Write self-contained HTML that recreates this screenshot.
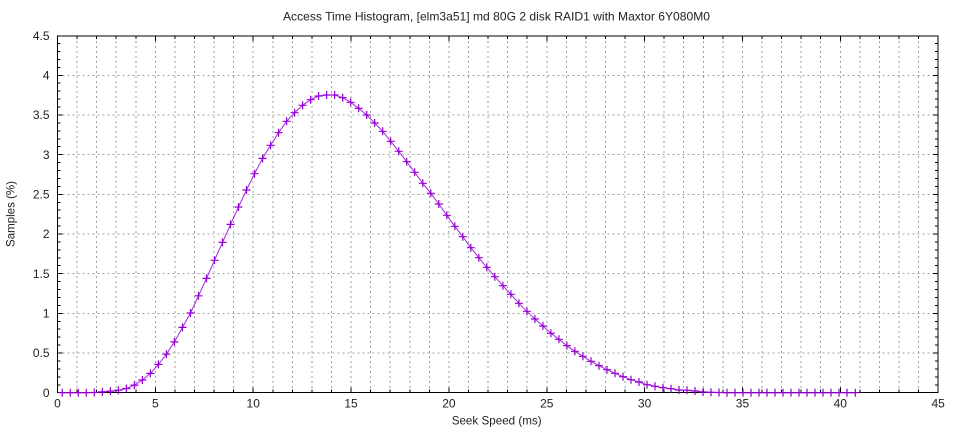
<!DOCTYPE html>
<html>
<head>
<meta charset="utf-8">
<style>
html,body{margin:0;padding:0;background:#fff;}
svg{display:block;}
text{font-family:"Liberation Sans",sans-serif;fill:#222;}
</style>
</head>
<body>
<svg width="960" height="432" viewBox="0 0 960 432" xmlns="http://www.w3.org/2000/svg">
<rect width="960" height="432" fill="#fff"/>
<defs>
<path id="p" d="M-4 0h8M0 -4v8" stroke="#9400d3" stroke-width="1.2" fill="none"/>
</defs>

<!-- grid -->
<g stroke="#a0a0a0" stroke-width="1" stroke-dasharray="2,3" fill="none" shape-rendering="crispEdges">
<path d="M77.07 36V392.7M96.64 36V392.7M116.21 36V392.7M135.78 36V392.7M155.35 36V392.7M174.92 36V392.7M194.49 36V392.7M214.06 36V392.7M233.63 36V392.7M253.2 36V392.7M272.77 36V392.7M292.34 36V392.7M311.91 36V392.7M331.48 36V392.7M351.05 36V392.7M370.62 36V392.7M390.19 36V392.7M409.76 36V392.7M429.33 36V392.7M448.9 36V392.7M468.47 36V392.7M488.04 36V392.7M507.61 36V392.7M527.18 36V392.7M546.75 36V392.7M566.32 36V392.7M585.89 36V392.7M605.46 36V392.7M625.03 36V392.7M644.6 36V392.7M664.17 36V392.7M683.74 36V392.7M703.31 36V392.7M722.88 36V392.7M742.45 36V392.7M762.02 36V392.7M781.59 36V392.7M801.16 36V392.7M820.73 36V392.7M840.3 36V392.7M859.87 36V392.7M879.44 36V392.7M899.01 36V392.7M918.58 36V392.7"/>
<path d="M57.5 353H938M57.5 313.35H938M57.5 273.7H938M57.5 234H938M57.5 194.3H938M57.5 154.65H938M57.5 115H938M57.5 75.3H938"/>
</g>

<!-- ticks -->
<g stroke="#000" stroke-width="1" fill="none" shape-rendering="crispEdges">
<path d="M57.5 384.77h3M938 384.77h-3M57.5 376.83h3M938 376.83h-3M57.5 368.9h3M938 368.9h-3M57.5 360.96h3M938 360.96h-3M57.5 345.09h3M938 345.09h-3M57.5 337.16h3M938 337.16h-3M57.5 329.22h3M938 329.22h-3M57.5 321.29h3M938 321.29h-3M57.5 305.42h3M938 305.42h-3M57.5 297.48h3M938 297.48h-3M57.5 289.55h3M938 289.55h-3M57.5 281.61h3M938 281.61h-3M57.5 265.74h3M938 265.74h-3M57.5 257.81h3M938 257.81h-3M57.5 249.87h3M938 249.87h-3M57.5 241.94h3M938 241.94h-3M57.5 226.07h3M938 226.07h-3M57.5 218.13h3M938 218.13h-3M57.5 210.2h3M938 210.2h-3M57.5 202.26h3M938 202.26h-3M57.5 186.39h3M938 186.39h-3M57.5 178.46h3M938 178.46h-3M57.5 170.52h3M938 170.52h-3M57.5 162.59h3M938 162.59h-3M57.5 146.72h3M938 146.72h-3M57.5 138.78h3M938 138.78h-3M57.5 130.85h3M938 130.85h-3M57.5 122.91h3M938 122.91h-3M57.5 107.04h3M938 107.04h-3M57.5 99.11h3M938 99.11h-3M57.5 91.17h3M938 91.17h-3M57.5 83.24h3M938 83.24h-3M57.5 67.37h3M938 67.37h-3M57.5 59.43h3M938 59.43h-3M57.5 51.5h3M938 51.5h-3M57.5 43.56h3M938 43.56h-3"/>
<path d="M57.5 353h5M938 353h-5M57.5 313.35h5M938 313.35h-5M57.5 273.7h5M938 273.7h-5M57.5 234h5M938 234h-5M57.5 194.3h5M938 194.3h-5M57.5 154.65h5M938 154.65h-5M57.5 115h5M938 115h-5M57.5 75.3h5M938 75.3h-5"/>
<path d="M77.07 392.7v-3M77.07 36v3M96.64 392.7v-3M96.64 36v3M116.21 392.7v-3M116.21 36v3M135.78 392.7v-3M135.78 36v3M174.92 392.7v-3M174.92 36v3M194.49 392.7v-3M194.49 36v3M214.06 392.7v-3M214.06 36v3M233.63 392.7v-3M233.63 36v3M272.77 392.7v-3M272.77 36v3M292.34 392.7v-3M292.34 36v3M311.91 392.7v-3M311.91 36v3M331.48 392.7v-3M331.48 36v3M370.62 392.7v-3M370.62 36v3M390.19 392.7v-3M390.19 36v3M409.76 392.7v-3M409.76 36v3M429.33 392.7v-3M429.33 36v3M468.47 392.7v-3M468.47 36v3M488.04 392.7v-3M488.04 36v3M507.61 392.7v-3M507.61 36v3M527.18 392.7v-3M527.18 36v3M566.32 392.7v-3M566.32 36v3M585.89 392.7v-3M585.89 36v3M605.46 392.7v-3M605.46 36v3M625.03 392.7v-3M625.03 36v3M664.17 392.7v-3M664.17 36v3M683.74 392.7v-3M683.74 36v3M703.31 392.7v-3M703.31 36v3M722.88 392.7v-3M722.88 36v3M762.02 392.7v-3M762.02 36v3M781.59 392.7v-3M781.59 36v3M801.16 392.7v-3M801.16 36v3M820.73 392.7v-3M820.73 36v3M859.87 392.7v-3M859.87 36v3M879.44 392.7v-3M879.44 36v3M899.01 392.7v-3M899.01 36v3M918.58 392.7v-3M918.58 36v3"/>
<path d="M155.35 392.7v-5M155.35 36v5M253.2 392.7v-5M253.2 36v5M351.05 392.7v-5M351.05 36v5M448.9 392.7v-5M448.9 36v5M546.75 392.7v-5M546.75 36v5M644.6 392.7v-5M644.6 36v5M742.45 392.7v-5M742.45 36v5M840.3 392.7v-5M840.3 36v5"/>
<rect x="57.5" y="36" width="880.5" height="356.7"/>
</g>

<!-- data line -->
<polyline fill="none" stroke="#9400d3" stroke-width="1" stroke-opacity="0.85" points="62.3,392.7 70.3,392.7 78.3,392.7 86.3,392.7 94.3,392.5 102.4,391.9 110.4,391.1 118.4,390.2 126.4,388.5 134.4,385.1 142.4,380 150.4,373.4 158.4,364.4 166.4,354.2 174.4,341.9 182.5,327.4 190.5,313 198.5,295.8 206.5,278.4 214.5,260.3 222.5,242.4 230.5,224.4 238.5,207 246.5,190 254.5,173.7 262.6,158.4 270.6,145.3 278.6,132.7 286.6,121.3 294.6,112.7 302.6,105.3 310.6,99.7 318.6,96 326.6,95 334.6,95 342.7,97.7 350.7,102.3 358.7,108.3 366.7,115 374.7,123 382.7,131.3 390.7,141.3 398.7,151.3 406.7,161.7 414.7,172.3 422.8,183.3 430.8,193.3 438.8,204 446.8,215.3 454.8,226.3 462.8,236.7 470.8,247.7 478.8,257.7 486.8,267.3 494.8,276.7 502.9,285.7 510.9,294.3 518.9,303.3 526.9,311.3 534.9,319 542.9,326 550.9,333.3 558.9,339.3 566.9,345.7 574.9,351.3 582.9,356.3 591,361.3 599,365.7 607,369.7 615,373.3 623,376.7 631,379.7 639,382 647,384.7 655,386.3 663,387.7 671,388.7 679,390 687,390.3 695,391 703,392 711,392.3 719,392.5 727,392.7 735,392.7 743,392.7 751,392.7 759,392.7 767,392.7 775,392.7 783,392.7 791,392.7 799,392.7 807,392.7 815,392.7 823,392.7 831,392.7 839,392.7 847,392.7 855.3,392.7"/>

<!-- markers -->
<g>
<use href="#p" x="62.3" y="392.7"/><use href="#p" x="70.3" y="392.7"/><use href="#p" x="78.3" y="392.7"/><use href="#p" x="86.3" y="392.7"/><use href="#p" x="94.3" y="392.5"/>
<use href="#p" x="102.4" y="391.9"/><use href="#p" x="110.4" y="391.1"/><use href="#p" x="118.4" y="390.2"/><use href="#p" x="126.4" y="388.5"/><use href="#p" x="134.4" y="385.1"/>
<use href="#p" x="142.4" y="380"/><use href="#p" x="150.4" y="373.4"/><use href="#p" x="158.4" y="364.4"/><use href="#p" x="166.4" y="354.2"/><use href="#p" x="174.4" y="341.9"/>
<use href="#p" x="182.5" y="327.4"/><use href="#p" x="190.5" y="313"/><use href="#p" x="198.5" y="295.8"/><use href="#p" x="206.5" y="278.4"/><use href="#p" x="214.5" y="260.3"/>
<use href="#p" x="222.5" y="242.4"/><use href="#p" x="230.5" y="224.4"/><use href="#p" x="238.5" y="207"/><use href="#p" x="246.5" y="190"/><use href="#p" x="254.5" y="173.7"/>
<use href="#p" x="262.6" y="158.4"/><use href="#p" x="270.6" y="145.3"/><use href="#p" x="278.6" y="132.7"/><use href="#p" x="286.6" y="121.3"/><use href="#p" x="294.6" y="112.7"/>
<use href="#p" x="302.6" y="105.3"/><use href="#p" x="310.6" y="99.7"/><use href="#p" x="318.6" y="96"/><use href="#p" x="326.6" y="95"/><use href="#p" x="334.6" y="95"/>
<use href="#p" x="342.7" y="97.7"/><use href="#p" x="350.7" y="102.3"/><use href="#p" x="358.7" y="108.3"/><use href="#p" x="366.7" y="115"/><use href="#p" x="374.7" y="123"/>
<use href="#p" x="382.7" y="131.3"/><use href="#p" x="390.7" y="141.3"/><use href="#p" x="398.7" y="151.3"/><use href="#p" x="406.7" y="161.7"/><use href="#p" x="414.7" y="172.3"/>
<use href="#p" x="422.8" y="183.3"/><use href="#p" x="430.8" y="193.3"/><use href="#p" x="438.8" y="204"/><use href="#p" x="446.8" y="215.3"/><use href="#p" x="454.8" y="226.3"/>
<use href="#p" x="462.8" y="236.7"/><use href="#p" x="470.8" y="247.7"/><use href="#p" x="478.8" y="257.7"/><use href="#p" x="486.8" y="267.3"/><use href="#p" x="494.8" y="276.7"/>
<use href="#p" x="502.9" y="285.7"/><use href="#p" x="510.9" y="294.3"/><use href="#p" x="518.9" y="303.3"/><use href="#p" x="526.9" y="311.3"/><use href="#p" x="534.9" y="319"/>
<use href="#p" x="542.9" y="326"/><use href="#p" x="550.9" y="333.3"/><use href="#p" x="558.9" y="339.3"/><use href="#p" x="566.9" y="345.7"/><use href="#p" x="574.9" y="351.3"/>
<use href="#p" x="582.9" y="356.3"/><use href="#p" x="591" y="361.3"/><use href="#p" x="599" y="365.7"/><use href="#p" x="607" y="369.7"/><use href="#p" x="615" y="373.3"/>
<use href="#p" x="623" y="376.7"/><use href="#p" x="631" y="379.7"/><use href="#p" x="639" y="382"/><use href="#p" x="647" y="384.7"/><use href="#p" x="655" y="386.3"/>
<use href="#p" x="663" y="387.7"/><use href="#p" x="671" y="388.7"/><use href="#p" x="679" y="390"/><use href="#p" x="687" y="390.3"/><use href="#p" x="695" y="391"/>
<use href="#p" x="703" y="392"/><use href="#p" x="711" y="392.3"/><use href="#p" x="719" y="392.5"/><use href="#p" x="727" y="392.7"/><use href="#p" x="735" y="392.7"/>
<use href="#p" x="743" y="392.7"/><use href="#p" x="751" y="392.7"/><use href="#p" x="759" y="392.7"/><use href="#p" x="767" y="392.7"/><use href="#p" x="775" y="392.7"/>
<use href="#p" x="783" y="392.7"/><use href="#p" x="791" y="392.7"/><use href="#p" x="799" y="392.7"/><use href="#p" x="807" y="392.7"/><use href="#p" x="815" y="392.7"/>
<use href="#p" x="823" y="392.7"/><use href="#p" x="831" y="392.7"/><use href="#p" x="839" y="392.7"/><use href="#p" x="847" y="392.7"/><use href="#p" x="855.3" y="392.7"/>
</g>

<!-- y tick labels -->
<g font-size="12" text-anchor="end">
<text x="49.5" y="396.9">0</text>
<text x="49.5" y="357.2">0.5</text>
<text x="49.5" y="317.5">1</text>
<text x="49.5" y="277.9">1.5</text>
<text x="49.5" y="238.2">2</text>
<text x="49.5" y="198.5">2.5</text>
<text x="49.5" y="158.8">3</text>
<text x="49.5" y="119.2">3.5</text>
<text x="49.5" y="79.5">4</text>
<text x="49.5" y="39.8">4.5</text>
</g>

<!-- x tick labels -->
<g font-size="12" text-anchor="middle">
<text x="57.5" y="407.5">0</text>
<text x="155.35" y="407.5">5</text>
<text x="253.2" y="407.5">10</text>
<text x="351.05" y="407.5">15</text>
<text x="448.9" y="407.5">20</text>
<text x="546.75" y="407.5">25</text>
<text x="644.6" y="407.5">30</text>
<text x="742.45" y="407.5">35</text>
<text x="840.3" y="407.5">40</text>
<text x="938.15" y="407.5">45</text>
</g>

<!-- titles -->
<text x="283" y="20.5" font-size="12" textLength="427" lengthAdjust="spacingAndGlyphs">Access Time Histogram, [elm3a51] md 80G 2 disk RAID1 with Maxtor 6Y080M0</text>
<text x="451.7" y="424.5" font-size="12" textLength="90" lengthAdjust="spacingAndGlyphs">Seek Speed (ms)</text>
<text transform="translate(14.5,247) rotate(-90)" font-size="12" textLength="66" lengthAdjust="spacingAndGlyphs">Samples (%)</text>
</svg>
</body>
</html>
